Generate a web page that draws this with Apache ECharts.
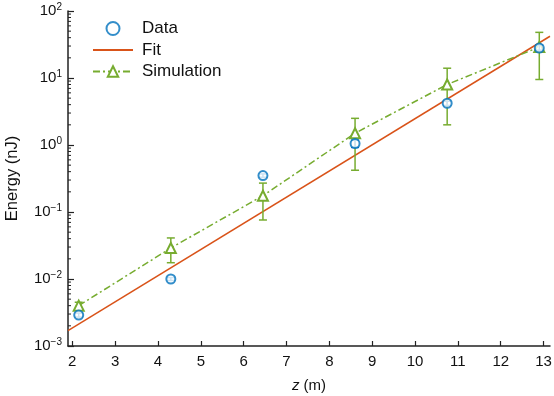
<!DOCTYPE html>
<html>
<head>
<meta charset="utf-8">
<script src="https://cdn.jsdelivr.net/npm/echarts@6/dist/echarts.min.js"></script>
<style>
  html, body { margin: 0; padding: 0; background: #fff; }
  #chart { width: 554px; height: 396px; }
</style>
</head>
<body>
<div id="chart"></div>
<script>
// measured data (blue circles)
const dataZ = [2.15, 4.3, 6.45, 8.6, 10.75, 12.9];
const dataE = [0.0029, 0.0100, 0.35, 1.05, 4.2, 28];
const dataLo = [0.0027, 0.0095, 0.33, 0.92, 3.9, 26];
const dataHi = [0.0031, 0.0105, 0.37, 1.18, 4.5, 31];

// simulation (green triangles)
const simZ = [2.15, 4.3, 6.45, 8.6, 10.75, 12.9];
const simE = [0.0040, 0.029, 0.175, 1.5, 8.0, 29];
const simLo = [0.0036, 0.0175, 0.076, 0.42, 2.0, 9.5];
const simHi = [0.0045, 0.041, 0.27, 2.5, 14, 48];

// exponential fit, straight in log space
const fitZ = [1.9, 13.15];
const fitE = [0.0017, 42];

const xTicks = [2, 3, 4, 5, 6, 7, 8, 9, 10, 11, 12, 13];
const yMinorTicks = [];
[0.001, 0.01, 0.1, 1, 10].forEach(d => {
    for (let k = 2; k <= 9; k++) yMinorTicks.push(d * k);
});

const X_MIN = 1.9, X_MAX = 13.15;
const blue = '#0072BD', orange = '#D95319', green = '#77AC30';
const font = 'Liberation Sans, Arial, Helvetica, sans-serif';

function errorBars(color) {
    return function (params, api) {
        const x = api.value(0);
        const lo = api.coord([x, api.value(1)]);
        const hi = api.coord([x, api.value(2)]);
        const w = 4;
        const st = { stroke: color, lineWidth: 1.5 };
        return {
            type: 'group',
            children: [
                { type: 'line', shape: { x1: lo[0], y1: lo[1], x2: hi[0], y2: hi[1] }, style: st },
                { type: 'line', shape: { x1: lo[0] - w, y1: lo[1], x2: lo[0] + w, y2: lo[1] }, style: st },
                { type: 'line', shape: { x1: hi[0] - w, y1: hi[1], x2: hi[0] + w, y2: hi[1] }, style: st }
            ]
        };
    };
}

const chart = echarts.init(document.getElementById('chart'));

chart.setOption({
    animation: false,
    textStyle: { fontFamily: font },
    grid: { left: 68, right: 4, top: 11, bottom: 50, outerBoundsMode: 'none' },
    legend: {
        orient: 'vertical',
        left: 87,
        top: 15,
        itemWidth: 40,
        itemHeight: 13,
        itemGap: 4.5,
        textStyle: { fontSize: 17, color: '#111', fontFamily: font, padding: [0, 0, 0, 4] },
        data: [
            'Data',
            { name: 'Fit', itemStyle: { opacity: 0 } },
            'Simulation'
        ]
    },
    xAxis: {
        type: 'value',
        min: X_MIN,
        max: X_MAX,
        name: '{i|z} (m)',
        nameLocation: 'middle',
        nameGap: 32,
        nameTextStyle: {
            fontSize: 15, color: '#111',
            rich: { i: { fontStyle: 'italic', fontSize: 15, color: '#111' } }
        },
        splitLine: { show: false },
        axisLine: { onZero: false, lineStyle: { color: '#222', width: 1.5 } },
        axisTick: { inside: true, length: 5, customValues: xTicks, lineStyle: { color: '#222', width: 1.2 } },
        axisLabel: { customValues: xTicks, fontSize: 15, color: '#111', margin: 8 }
    },
    yAxis: {
        type: 'log',
        logBase: 10,
        min: 0.001,
        max: 100,
        interval: 1,
        name: 'Energy (nJ)',
        nameLocation: 'middle',
        nameGap: 47,
        nameTextStyle: { fontSize: 16.5, color: '#111' },
        splitLine: { show: false },
        axisLine: { show: true, lineStyle: { color: '#222', width: 1.5 } },
        axisTick: { inside: true, length: 6, lineStyle: { color: '#222', width: 1.2 } },
        axisLabel: {
            fontSize: 15,
            color: '#111',
            margin: 6,
            formatter: v => {
                const e = Math.round(Math.log10(v));
                return '{b|10}{s|' + (e < 0 ? '\u2212' + (-e) : e) + '}';
            },
            rich: {
                b: { fontSize: 15, color: '#111' },
                s: { fontSize: 10, color: '#111', verticalAlign: 'top', padding: [0, 0, 8, 0] }
            }
        }
    },
    series: [
        {
            name: 'Data',
            type: 'scatter',
            symbol: 'emptyCircle',
            symbolSize: 9,
            itemStyle: { color: blue, borderWidth: 2.2 },
            data: dataZ.map((z, i) => [z, dataE[i]]),
            z: 5
        },
        {
            name: 'Fit',
            type: 'line',
            showSymbol: false,
            symbol: 'none',
            lineStyle: { color: orange, width: 1.5 },
            itemStyle: { color: orange },
            data: fitZ.map((z, i) => [z, fitE[i]]),
            z: 3
        },
        {
            name: 'Simulation',
            type: 'line',
            symbol: 'emptyTriangle',
            symbolSize: 10,
            lineStyle: { color: green, width: 1.5, type: [7, 3, 2, 3] },
            itemStyle: { color: green, borderWidth: 1.5 },
            data: simZ.map((z, i) => [z, simE[i]]),
            z: 4
        },
        {
            name: 'Data err',
            type: 'custom',
            renderItem: errorBars(blue),
            data: dataZ.map((z, i) => [z, dataLo[i], dataHi[i]]),
            z: 5
        },
        {
            name: 'Sim err',
            type: 'custom',
            renderItem: errorBars(green),
            data: simZ.map((z, i) => [z, simLo[i], simHi[i]]),
            z: 4
        },
        {
            // minor log ticks on the y axis
            name: 'minor',
            type: 'custom',
            silent: true,
            renderItem: (params, api) => {
                const p = api.coord([X_MIN, api.value(0)]);
                return {
                    type: 'line',
                    shape: { x1: p[0], y1: p[1], x2: p[0] + 3, y2: p[1] },
                    style: { stroke: '#222', lineWidth: 1 }
                };
            },
            encode: { y: 0 },
            data: yMinorTicks.map(v => [v]),
            z: 1
        }
    ]
});
</script>
</body>
</html>
